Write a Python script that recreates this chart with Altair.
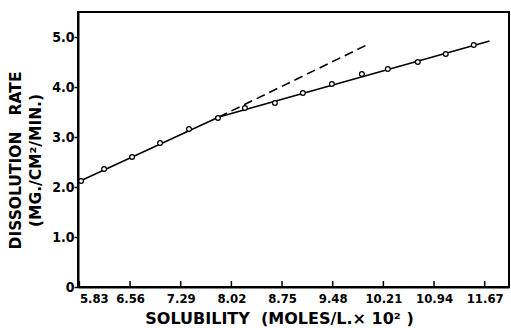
import altair as alt
import pandas as pd

# measured points
sol = [5.855, 6.186, 6.589, 6.992, 7.409, 7.827, 8.215, 8.647, 9.050, 9.468,
       9.900, 10.274, 10.706, 11.109, 11.512]
rate = [2.12, 2.36, 2.60, 2.88, 3.16, 3.38, 3.58, 3.68, 3.88, 4.06,
        4.26, 4.36, 4.50, 4.66, 4.84]

# solid fitted line (two segments with a break)
solid_x = [5.81, 7.84, 11.74]
solid_y = [2.10, 3.40, 4.92]

# dashed extrapolation
dash_x = [7.84, 9.97]
dash_y = [3.40, 4.84]

x_ticks = [5.83, 6.56, 7.29, 8.02, 8.75, 9.48, 10.21, 10.94, 11.67]
y_ticks = [0, 1, 2, 3, 4, 5]

XMIN, XMAX = 5.81, 12.02
YMIN, YMAX = 0, 5.5

FONT = "DejaVu Sans Condensed"
NB = "\u00a0"

pts = pd.DataFrame({"x": sol, "y": rate})
solid = pd.DataFrame({"x": solid_x, "y": solid_y, "o": list(range(len(solid_x)))})
dash = pd.DataFrame({"x": dash_x, "y": dash_y, "o": list(range(len(dash_x)))})
xt = pd.DataFrame({"x": x_ticks})

xscale = alt.Scale(domain=[XMIN, XMAX], nice=False, zero=False)
yscale = alt.Scale(domain=[YMIN, YMAX], nice=False, zero=False)

xaxis = alt.Axis(
    values=x_ticks, labelExpr="format(datum.value, '.2f')",
    title="SOLUBILITY" + NB + NB + "(MOLES/L.×" + NB + "10²" + NB + ")",
    titleFont="DejaVu Sans", titleFontSize=16, titleFontWeight="bold",
    titleColor="black", titleX=201, titleY=36, titleBaseline="alphabetic",
    titleAlign="center",
    labelFont=FONT, labelFontSize=13, labelFontWeight="bold", labelColor="black",
    labelPadding=5, tickSize=0, domainColor="black", domainWidth=2,
    grid=False, labelFlush=4,
)
yaxis = alt.Axis(
    values=y_ticks,
    labelExpr="datum.value == 0 ? '0' : format(datum.value, '.1f')",
    title=["DISSOLUTION" + NB + NB + NB + "RATE", "(MG./CM²/MIN.)"],
    titleFont="DejaVu Sans", titleFontSize=15.5, titleFontWeight="bold",
    titleColor="black", titleX=-63, titleY=148, titleAngle=-90,
    titleAlign="center", titleBaseline="middle", titleLineHeight=20,
    labelFont=FONT, labelFontSize=14, labelFontWeight="bold", labelColor="black",
    labelPadding=0, tickSize=4, tickColor="black", tickWidth=1.5,
    domainColor="black", domainWidth=2, grid=False,
)

base_x = alt.X("x:Q", scale=xscale, axis=xaxis)
base_y = alt.Y("y:Q", scale=yscale, axis=yaxis)

solid_line = alt.Chart(solid).mark_line(color="black", strokeWidth=1.6).encode(
    x=base_x, y=base_y, order="o:Q")
dash_line = alt.Chart(dash).mark_line(color="black", strokeWidth=1.6,
                                      strokeDash=[9, 5]).encode(
    x="x:Q", y="y:Q", order="o:Q")
points = alt.Chart(pts).mark_point(shape="circle", size=22, filled=True,
                                   fill="white", stroke="black",
                                   strokeWidth=1.3, opacity=1).encode(
    x="x:Q", y="y:Q")
ticks = alt.Chart(xt).mark_rule(color="black", strokeWidth=1.5).encode(
    x="x:Q", y=alt.datum(0), y2=alt.datum(0.12))

chart = alt.layer(solid_line, dash_line, ticks, points).properties(
    width=431, height=275,
    autosize=alt.AutoSizeParams(type="none"),
    padding={"left": 78, "top": 12, "right": 2, "bottom": 41},
    background="white",
).configure_view(stroke="black", strokeWidth=2)

chart.save("out.html", embed_options={"renderer": "svg", "actions": False})
